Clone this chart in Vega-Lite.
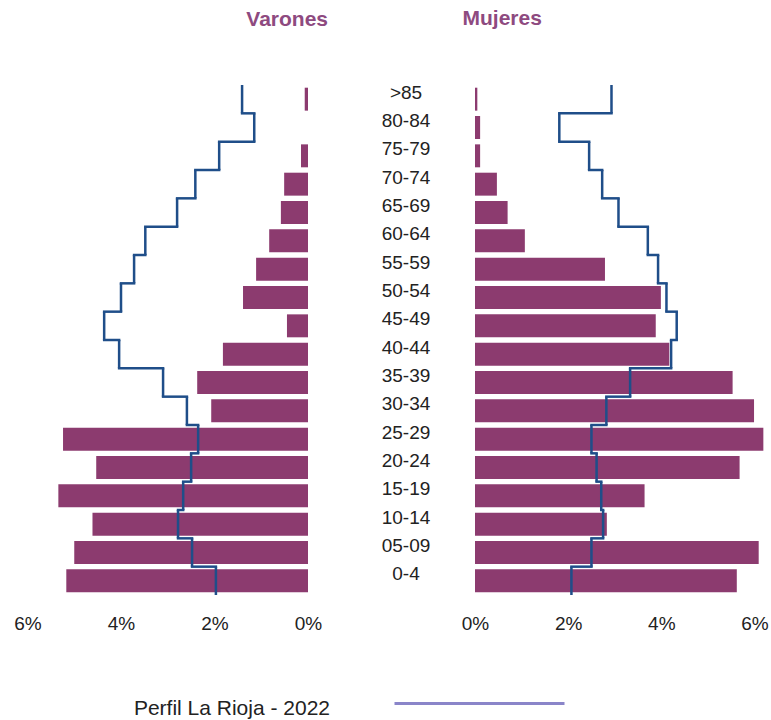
{
  "$schema": "https://vega.github.io/schema/vega-lite/v6.json",
  "padding": {"left": 13.5, "top": 8, "right": 0, "bottom": 0},
  "background": "white",
  "config": {
    "view": {"stroke": null},
    "font": "Liberation Sans",
    "axis": {"grid": false, "domain": false, "ticks": false, "labelFlush": false},
    "legend": {
      "orient": "none", "legendX": 365.5, "legendY": 532, "padding": 0,
      "symbolType": "stroke", "symbolSize": 28900, "symbolStrokeWidth": 3,
      "symbolOffset": 0,
      "labelAlign": "right", "labelOffset": -236, "labelFontSize": 21,
      "labelFont": "Liberation Sans", "labelColor": "#222222", "labelLimit": 400
    }
  },
  "datasets": {
    "piramide": [
      {"edad": ">85", "varones": 0.07, "mujeres": 0.05, "perfil_v": 1.41, "perfil_m": 2.93},
      {"edad": "80-84", "varones": 0.0, "mujeres": 0.11, "perfil_v": 1.15, "perfil_m": 1.81},
      {"edad": "75-79", "varones": 0.15, "mujeres": 0.11, "perfil_v": 1.90, "perfil_m": 2.45},
      {"edad": "70-74", "varones": 0.51, "mujeres": 0.47, "perfil_v": 2.41, "perfil_m": 2.73},
      {"edad": "65-69", "varones": 0.58, "mujeres": 0.70, "perfil_v": 2.80, "perfil_m": 3.08},
      {"edad": "60-64", "varones": 0.83, "mujeres": 1.07, "perfil_v": 3.48, "perfil_m": 3.71},
      {"edad": "55-59", "varones": 1.11, "mujeres": 2.79, "perfil_v": 3.72, "perfil_m": 3.93},
      {"edad": "50-54", "varones": 1.39, "mujeres": 3.99, "perfil_v": 4.00, "perfil_m": 4.11},
      {"edad": "45-49", "varones": 0.45, "mujeres": 3.88, "perfil_v": 4.36, "perfil_m": 4.33},
      {"edad": "40-44", "varones": 1.82, "mujeres": 4.17, "perfil_v": 4.04, "perfil_m": 4.21},
      {"edad": "35-39", "varones": 2.37, "mujeres": 5.53, "perfil_v": 3.10, "perfil_m": 3.33},
      {"edad": "30-34", "varones": 2.07, "mujeres": 5.99, "perfil_v": 2.59, "perfil_m": 2.82},
      {"edad": "25-29", "varones": 5.24, "mujeres": 6.19, "perfil_v": 2.35, "perfil_m": 2.50},
      {"edad": "20-24", "varones": 4.53, "mujeres": 5.68, "perfil_v": 2.50, "perfil_m": 2.61},
      {"edad": "15-19", "varones": 5.34, "mujeres": 3.64, "perfil_v": 2.67, "perfil_m": 2.71},
      {"edad": "10-14", "varones": 4.61, "mujeres": 2.83, "perfil_v": 2.78, "perfil_m": 2.75},
      {"edad": "05-09", "varones": 5.00, "mujeres": 6.09, "perfil_v": 2.48, "perfil_m": 2.50},
      {"edad": "0-4", "varones": 5.17, "mujeres": 5.62, "perfil_v": 1.97, "perfil_m": 2.07}
    ]
  },
  "bounds": "flush",
  "spacing": 166.5,
  "hconcat": [
    {
      "width": 280.5,
      "height": 510,
      "data": {"name": "piramide"},
      "title": {"text": "Varones", "anchor": "end", "frame": "group", "dx": 20, "fontSize": 21, "fontWeight": "bold", "color": "#8e4a80", "baseline": "alphabetic", "offset": 37, "font": "Liberation Sans"},
      "layer": [
        {
          "mark": {"type": "bar", "color": "#8c3b6f", "height": {"band": 0.81}},
          "encoding": {
            "y": {"field": "edad", "type": "nominal", "sort": null, "scale": {"domain": [">85","80-84","75-79","70-74","65-69","60-64","55-59","50-54","45-49","40-44","35-39","30-34","25-29","20-24","15-19","10-14","05-09","0-4"], "paddingInner": 0, "paddingOuter": 0}, "axis": null},
            "x": {"field": "varones", "type": "quantitative", "scale": {"domain": [0, 6], "reverse": true, "nice": false}, "axis": {"values": [0, 2, 4, 6], "labelExpr": "datum.value + '%'", "labelFontSize": 19, "labelColor": "#222222", "labelPadding": 19, "title": null}}
          }
        },
        {
          "mark": {"type": "bar", "filled": false, "color": "#1f4e89", "strokeWidth": 2.5},
          "encoding": {
            "y": {"field": "edad", "type": "nominal", "sort": null, "axis": null},
            "x": {"field": "perfil_v", "type": "quantitative", "axis": {"values": [0, 2, 4, 6], "labelExpr": "datum.value + '%'", "labelFontSize": 19, "labelColor": "#222222", "labelPadding": 19, "title": null}},
            "x2": {"field": "perfil_v"}
          }
        },
        {
          "transform": [{"window": [{"op": "lead", "field": "perfil_v", "as": "sig_v"}]}, {"filter": "isValid(datum.sig_v)"}],
          "mark": {"type": "rule", "color": "#1f4e89", "strokeWidth": 2.5, "strokeCap": "square"},
          "encoding": {
            "y": {"field": "edad", "type": "nominal", "sort": null, "bandPosition": 1, "axis": null},
            "x": {"field": "perfil_v", "type": "quantitative", "axis": {"values": [0, 2, 4, 6], "labelExpr": "datum.value + '%'", "labelFontSize": 19, "labelColor": "#222222", "labelPadding": 19, "title": null}},
            "x2": {"field": "sig_v"}
          }
        },
        {
          "transform": [{"filter": "false"}],
          "mark": {"type": "rule", "strokeWidth": 3},
          "encoding": {
            "x": {"field": "perfil_v", "type": "quantitative", "axis": {"values": [0, 2, 4, 6], "labelExpr": "datum.value + '%'", "labelFontSize": 19, "labelColor": "#222222", "labelPadding": 19, "title": null}},
            "stroke": {"datum": "Perfil La Rioja - 2022", "type": "nominal", "scale": {"range": ["#8a85c9"]}, "legend": {"title": null, "encode": {"labels": {"update": {"dy": {"value": 5}}}}}}
          }
        }
      ]
    },
    {
      "width": 279.5,
      "height": 510,
      "data": {"name": "piramide"},
      "title": {"text": "Mujeres", "anchor": "start", "frame": "group", "dx": -12.5, "fontSize": 21, "fontWeight": "bold", "color": "#8e4a80", "baseline": "alphabetic", "offset": 37, "font": "Liberation Sans"},
      "layer": [
        {
          "mark": {"type": "bar", "color": "#8c3b6f", "height": {"band": 0.81}},
          "encoding": {
            "y": {"field": "edad", "type": "nominal", "sort": null, "scale": {"domain": [">85","80-84","75-79","70-74","65-69","60-64","55-59","50-54","45-49","40-44","35-39","30-34","25-29","20-24","15-19","10-14","05-09","0-4"], "paddingInner": 0, "paddingOuter": 0}, "axis": {"orient": "left", "labelAlign": "center", "labelPadding": 69.5, "labelFontSize": 19, "labelColor": "#222222", "labelBaseline": "middle", "labelOffset": -6.5, "title": null}},
            "x": {"field": "mujeres", "type": "quantitative", "scale": {"domain": [0, 6], "nice": false}, "axis": {"values": [0, 2, 4, 6], "labelExpr": "datum.value + '%'", "labelFontSize": 19, "labelColor": "#222222", "labelPadding": 19, "title": null}}
          }
        },
        {
          "mark": {"type": "bar", "filled": false, "color": "#1f4e89", "strokeWidth": 2.5},
          "encoding": {
            "y": {"field": "edad", "type": "nominal", "sort": null, "axis": {"orient": "left", "labelAlign": "center", "labelPadding": 69.5, "labelFontSize": 19, "labelColor": "#222222", "labelBaseline": "middle", "labelOffset": -6.5, "title": null}},
            "x": {"field": "perfil_m", "type": "quantitative", "axis": {"values": [0, 2, 4, 6], "labelExpr": "datum.value + '%'", "labelFontSize": 19, "labelColor": "#222222", "labelPadding": 19, "title": null}},
            "x2": {"field": "perfil_m"}
          }
        },
        {
          "transform": [{"window": [{"op": "lead", "field": "perfil_m", "as": "sig_m"}]}, {"filter": "isValid(datum.sig_m)"}],
          "mark": {"type": "rule", "color": "#1f4e89", "strokeWidth": 2.5, "strokeCap": "square"},
          "encoding": {
            "y": {"field": "edad", "type": "nominal", "sort": null, "bandPosition": 1, "axis": {"orient": "left", "labelAlign": "center", "labelPadding": 69.5, "labelFontSize": 19, "labelColor": "#222222", "labelBaseline": "middle", "labelOffset": -6.5, "title": null}},
            "x": {"field": "perfil_m", "type": "quantitative", "axis": {"values": [0, 2, 4, 6], "labelExpr": "datum.value + '%'", "labelFontSize": 19, "labelColor": "#222222", "labelPadding": 19, "title": null}},
            "x2": {"field": "sig_m"}
          }
        }
      ]
    }
  ]
}
